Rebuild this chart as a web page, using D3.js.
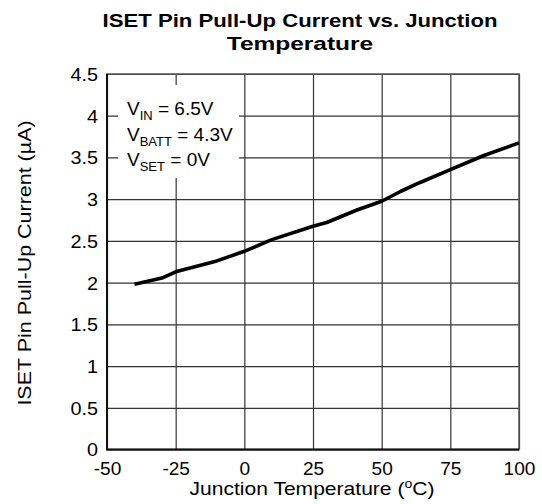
<!DOCTYPE html>
<html>
<head>
<meta charset="utf-8">
<script src="https://cdn.jsdelivr.net/npm/d3@7"></script>
<style>
  body { margin: 0; background: #fff; }
  text { font-family: "Liberation Sans", Arial, sans-serif; fill: #000; }
</style>
</head>
<body>
<div id="chart"></div>
<script>
const width = 542;
const height = 504;

// Values.
const temps = [-40, -30, -25, -10, 0, 10, 25, 30, 41, 50, 57, 64, 75, 87, 100];
const currents = [1.98, 2.055, 2.13, 2.26, 2.375, 2.515, 2.675, 2.72, 2.87, 2.975, 3.095, 3.2, 3.355, 3.52, 3.675];

const xTicks = [-50, -25, 0, 25, 50, 75, 100];
const yTicks = [0, 0.5, 1, 1.5, 2, 2.5, 3, 3.5, 4, 4.5];

const titleLines = ['ISET Pin Pull-Up Current vs. Junction', 'Temperature'];
const legendRows = [
  {main: 'V', sub: 'IN', rest: ' = 6.5V'},
  {main: 'V', sub: 'BATT', rest: ' = 4.3V'},
  {main: 'V', sub: 'SET', rest: ' = 0V'}
];

const margin = {top: 74, right: 23, bottom: 54.5, left: 107};
const plotW = width - margin.left - margin.right;
const plotH = height - margin.top - margin.bottom;

// Widen text horizontally to match the reference's wide glyphs.
const stretch = (sel, k) => sel.each(function () {
  const w = this.getComputedTextLength();
  d3.select(this)
    .attr('textLength', w * k)
    .attr('lengthAdjust', 'spacingAndGlyphs');
});

const data = temps.map((t, i) => ({x: t, y: currents[i]}));

const x = d3.scaleLinear().domain([-50, 100]).range([0, plotW]);
const y = d3.scaleLinear().domain([0, 4.5]).range([plotH, 0]);

const svg = d3.select('#chart').append('svg')
  .attr('width', width)
  .attr('height', height);

// Title
svg.append('g').selectAll('text')
  .data(titleLines)
  .join('text')
    .attr('x', 300)
    .attr('y', (d, i) => 27 + i * 23)
    .attr('text-anchor', 'middle')
    .style('font-size', '18px')
    .style('font-weight', 'bold')
    .text(d => d)
    .each(function (d, i) {
      const w = this.getComputedTextLength();
      d3.select(this)
        .attr('textLength', w * (i === 0 ? 1.23 : 1.36))
        .attr('lengthAdjust', 'spacingAndGlyphs');
    });

const g = svg.append('g')
  .attr('transform', `translate(${margin.left},${margin.top})`);

// Grid via axes (plain hyphen for negatives, like the reference)
const xGrid = g.append('g')
  .attr('transform', `translate(0,${plotH})`)
  .call(d3.axisBottom(x).tickValues(xTicks).tickFormat(d => String(d))
    .tickSize(-plotH).tickSizeOuter(0).tickPadding(13));

const yGrid = g.append('g')
  .call(d3.axisLeft(y).tickValues(yTicks).tickFormat(d => String(d))
    .tickSize(-plotW).tickSizeOuter(0).tickPadding(9));

[xGrid, yGrid].forEach(a => {
  a.select('.domain').remove();
  a.selectAll('line').attr('stroke', '#333').attr('stroke-width', 1.2);
  a.selectAll('text').style('font-size', '18px').attr('fill', '#000');
});
stretch(xGrid.selectAll('text'), 1.06);
stretch(yGrid.selectAll('text'), 1.1);
yGrid.selectAll('text').attr('dy', '0.36em');

// Frame
g.append('rect')
  .attr('width', plotW)
  .attr('height', plotH)
  .attr('fill', 'none')
  .attr('stroke', '#555')
  .attr('stroke-width', 1.5);

g.append('path')
  .attr('d', `M0,0V${plotH}H${plotW}`)
  .attr('fill', 'none')
  .attr('stroke', '#111')
  .attr('stroke-width', 2);

// Legend box (covers the grid)
g.append('rect')
  .attr('x', 11)
  .attr('y', 11)
  .attr('width', 121)
  .attr('height', 93)
  .attr('fill', '#fff');

const legend = g.append('g').selectAll('text')
  .data(legendRows)
  .join('text')
    .attr('x', 20)
    .attr('y', (d, i) => 41 + i * 25.5)
    .style('font-size', '19px');

legend.append('tspan').text(d => d.main);
legend.append('tspan')
  .attr('dy', 5)
  .style('font-size', '13px')
  .text(d => d.sub);
legend.append('tspan')
  .attr('dy', -5)
  .text(d => d.rest);

// Curve
const line = d3.line()
  .x(d => x(d.x))
  .y(d => y(d.y));

g.append('path')
  .datum(data)
  .attr('d', line)
  .attr('fill', 'none')
  .attr('stroke', '#000')
  .attr('stroke-width', 3.6)
  .attr('stroke-linejoin', 'round');

// Axis titles
const xTitle = svg.append('text')
  .attr('x', 312)
  .attr('y', 495)
  .attr('text-anchor', 'middle')
  .style('font-size', '18px');
xTitle.append('tspan').text('Junction Temperature (');
xTitle.append('tspan').attr('dy', -7).style('font-size', '12px').text('o');
xTitle.append('tspan').attr('dy', 7).text('C)');
xTitle.attr('transform', 'translate(312,0) scale(1.17,1) translate(-312,0)');

svg.append('text')
  .attr('transform', 'translate(31,263) rotate(-90)')
  .attr('text-anchor', 'middle')
  .style('font-size', '19px')
  .text('ISET Pin Pull-Up Current (µA)')
  .call(s => stretch(s, 1.13));
</script>
</body>
</html>
